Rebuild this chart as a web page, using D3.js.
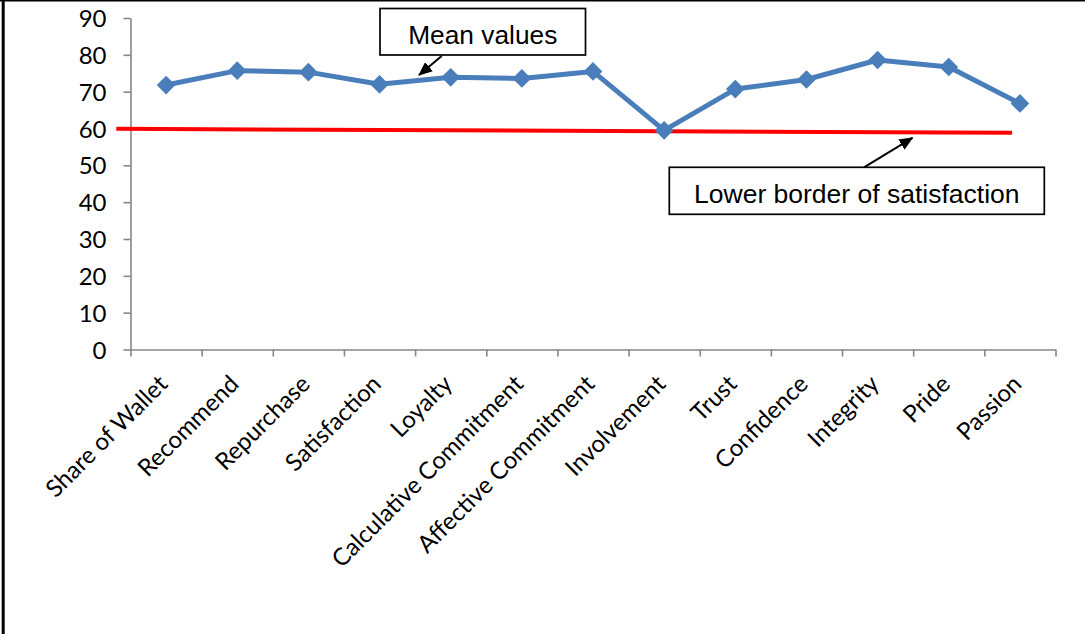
<!DOCTYPE html>
<html>
<head>
<meta charset="utf-8">
<script src="https://cdn.jsdelivr.net/npm/d3@7/dist/d3.min.js"></script>
<style>
  html, body { margin: 0; padding: 0; background: #fff; }
  svg { display: block; }
</style>
</head>
<body>
<svg id="chart" width="1085" height="634"></svg>
<script>
// Category names along the horizontal axis
const categories = [
  "Share of Wallet", "Recommend", "Repurchase", "Satisfaction", "Loyalty",
  "Calculative Commitment", "Affective Commitment", "Involvement", "Trust",
  "Confidence", "Integrity", "Pride", "Passion"
];

// Mean value per category
const meanValues = [71.8, 75.7, 75.3, 72.0, 73.9, 73.6, 75.5, 59.5, 70.7, 73.3, 78.6, 76.7, 66.8];

// Lower border of satisfaction: a slightly sloped reference line (position in category units, value)
const borderPos = [-0.2, 12.39];
const borderValues = [59.9, 58.85];

// Value axis ticks
const yTicks = [0, 10, 20, 30, 40, 50, 60, 70, 80, 90];

const svg = d3.select("#chart");

const plot = { left: 130.5, right: 1055.5, top: 18, bottom: 349.5 };

const y = d3.scaleLinear().domain([0, 90]).range([plot.bottom, plot.top]);
// position scale measured in category slots; slot i is centred at i + 0.5
const xPos = d3.scaleLinear().domain([0, categories.length]).range([plot.left, plot.right]);
const xc = i => xPos(i + 0.5);

const axisGrey = "#868686";
const tickFont = "Lato, 'Open Sans', sans-serif";
const boxFont = "'Liberation Sans', Arial, sans-serif";

// outer frame (top and left edges)
svg.append("line").attr("x1", 0).attr("x2", 1085).attr("y1", 0.75).attr("y2", 0.75)
  .attr("stroke", "#000").attr("stroke-width", 1.5);
svg.append("line").attr("x1", 3.2).attr("x2", 3.2).attr("y1", 0).attr("y2", 634)
  .attr("stroke", "#000").attr("stroke-width", 3);

// value axis
const yAxis = svg.append("g")
  .attr("transform", `translate(${plot.left},0)`)
  .call(d3.axisLeft(y).tickValues(yTicks).tickSize(7).tickPadding(17).tickSizeOuter(0));
yAxis.select(".domain").attr("stroke", axisGrey).attr("stroke-width", 1.6);
yAxis.selectAll(".tick line").attr("stroke", axisGrey).attr("stroke-width", 1.6);
yAxis.selectAll(".tick text")
  .attr("fill", "#000")
  .attr("font-family", tickFont)
  .attr("font-size", 24)
  .attr("dy", "0.36em");

// category axis: tick marks on slot boundaries
const xAxis = svg.append("g")
  .attr("transform", `translate(0,${plot.bottom})`)
  .call(d3.axisBottom(xPos).tickValues(d3.range(0, categories.length + 1))
    .tickSize(7).tickSizeOuter(0).tickFormat(""));
xAxis.select(".domain").attr("stroke", axisGrey).attr("stroke-width", 1.6);
xAxis.selectAll(".tick line").attr("stroke", axisGrey).attr("stroke-width", 1.6);

// rotated category labels
svg.append("g").selectAll("text")
  .data(categories)
  .join("text")
  .attr("transform", (d, i) => `translate(${xc(i) + 3},${plot.bottom + 36}) rotate(-45)`)
  .attr("text-anchor", "end")
  .attr("font-family", tickFont)
  .attr("font-size", 24)
  .attr("fill", "#000")
  .text(d => d);

// lower border of satisfaction
svg.append("path")
  .datum(borderPos.map((p, i) => [p, borderValues[i]]))
  .attr("d", d3.line().x(d => xPos(d[0])).y(d => y(d[1])))
  .attr("fill", "none")
  .attr("stroke", "#FF0000")
  .attr("stroke-width", 4);

// mean values series
const blue = "#4A7EBB";
svg.append("path")
  .datum(meanValues)
  .attr("d", d3.line().x((d, i) => xc(i)).y(d => y(d)))
  .attr("fill", "none")
  .attr("stroke", blue)
  .attr("stroke-width", 5)
  .attr("stroke-linejoin", "round");

svg.append("g").selectAll("path")
  .data(meanValues)
  .join("path")
  .attr("d", d3.symbol(d3.symbolSquare, 175))
  .attr("transform", (d, i) => `translate(${xc(i)},${y(d)}) rotate(45)`)
  .attr("fill", blue);

// arrowhead marker
svg.append("defs").append("marker")
  .attr("id", "arrowhead")
  .attr("markerUnits", "userSpaceOnUse")
  .attr("viewBox", "0 0 14 12")
  .attr("refX", 13).attr("refY", 6)
  .attr("markerWidth", 14).attr("markerHeight", 12)
  .attr("orient", "auto")
  .append("path")
  .attr("d", "M0,0 L14,6 L0,12 Z")
  .attr("fill", "#000");

// callout boxes with arrows
function callout(box, label, size, baseline, from, to) {
  svg.append("rect")
    .attr("x", box[0]).attr("y", box[1])
    .attr("width", box[2]).attr("height", box[3])
    .attr("fill", "#fff").attr("stroke", "#000").attr("stroke-width", 1.7);
  svg.append("text")
    .attr("x", box[0] + box[2] / 2).attr("y", baseline)
    .attr("text-anchor", "middle")
    .attr("font-family", boxFont)
    .attr("font-size", size)
    .attr("fill", "#000")
    .text(label);
  svg.append("line")
    .attr("x1", from[0]).attr("y1", from[1])
    .attr("x2", to[0]).attr("y2", to[1])
    .attr("stroke", "#000").attr("stroke-width", 2)
    .attr("marker-end", "url(#arrowhead)");
}

callout([380, 8.5, 205.5, 46.5], "Mean values", 26.3, 43.5, [441.7, 56], [419, 75]);
callout([669.3, 167.3, 375, 47], "Lower border of satisfaction", 26.5, 202.7, [864, 167.3], [912.5, 137.8]);
</script>
</body>
</html>
